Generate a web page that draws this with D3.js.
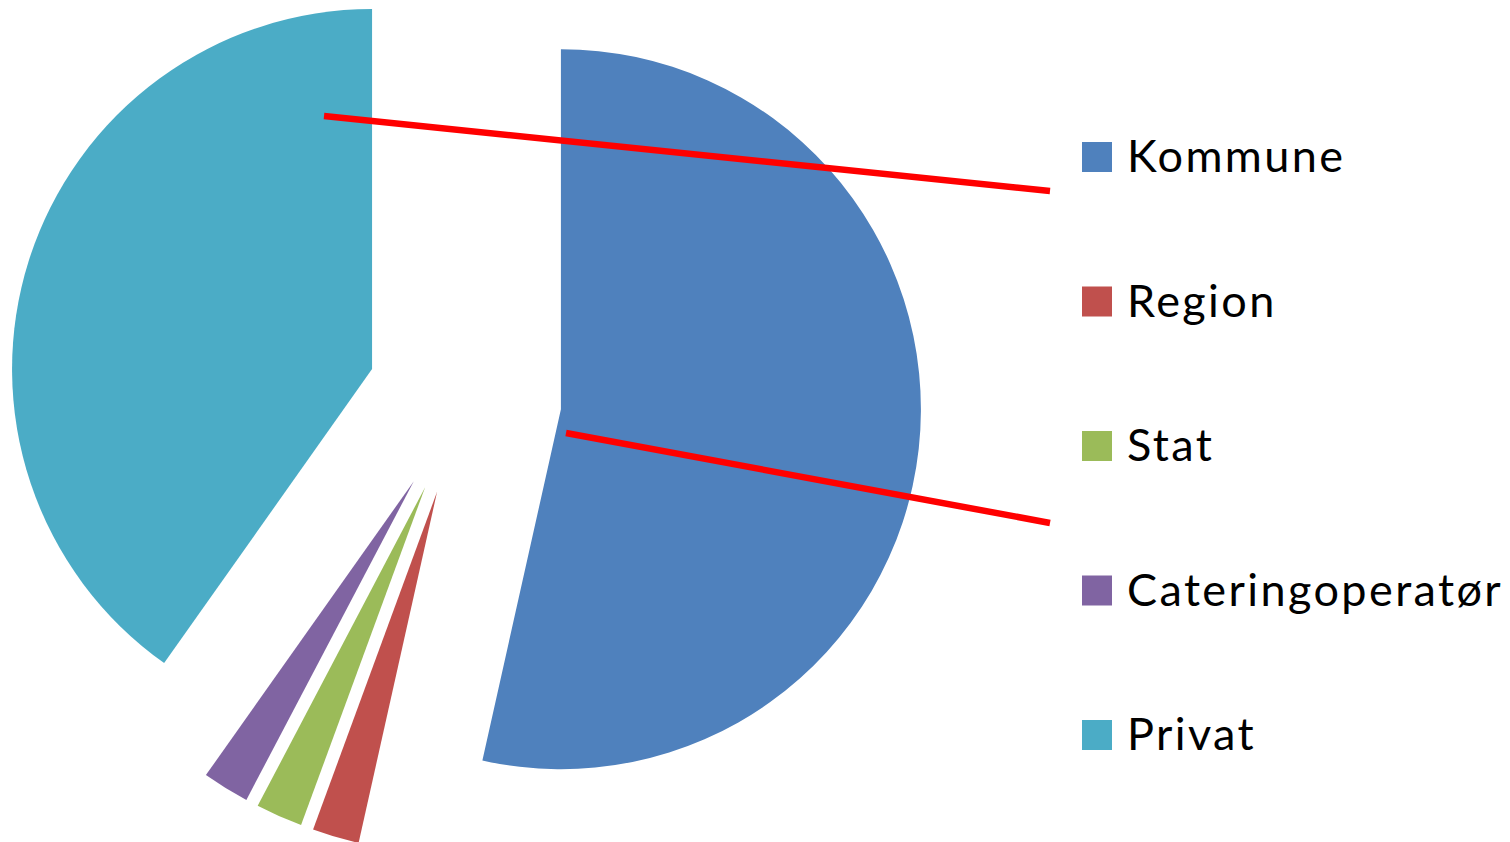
<!DOCTYPE html>
<html>
<head>
<meta charset="utf-8">
<script src="https://cdn.jsdelivr.net/npm/d3@7"></script>
<style>
  html, body { margin: 0; padding: 0; background: #ffffff; }
  svg { display: block; }
</style>
</head>
<body>
<svg id="chart" width="1510" height="842"></svg>
<script>
// Share of meals by provider (percent)
const categories = ["Kommune", "Region", "Stat", "Cateringoperatør", "Privat"];
const values = [53.5, 2.1, 2.1, 2.1, 40.2];
const colors = ["#4F81BD", "#C0504D", "#9BBB59", "#8064A2", "#4BACC6"];

// Red highlight strokes laid over the chart
const highlightLines = [
  { x1: 324, y1: 116, x2: 1050, y2: 191 },
  { x1: 566, y1: 433, x2: 1050, y2: 523 }
];

const width = 1510, height = 842;
const pieCenter = { x: 464.5, y: 398.5 };
const radius = 360;
const explode = 97;

const svg = d3.select("#chart");

const pie = d3.pie().sort(null).value(d => d.value).startAngle(0).endAngle(2 * Math.PI);
const arc = d3.arc().innerRadius(0).outerRadius(radius);

const data = categories.map((c, i) => ({ name: c, value: values[i], color: colors[i] }));
const arcs = pie(data);

const pieG = svg.append("g").attr("transform", `translate(${pieCenter.x},${pieCenter.y})`);

// Every slice is pulled out from the centre along its bisector
pieG.selectAll("path.slice")
  .data(arcs)
  .join("path")
  .attr("class", "slice")
  .attr("fill", d => d.data.color)
  .attr("d", arc)
  .attr("transform", d => {
    const mid = (d.startAngle + d.endAngle) / 2;
    const dx = Math.sin(mid) * explode;
    const dy = -Math.cos(mid) * explode;
    return `translate(${dx},${dy})`;
  });

// Legend
const legendX = 1082;
const legendY = d3.scaleBand().domain(categories).range([142, 142 + 144.5 * categories.length]);
const legend = svg.append("g");
const items = legend.selectAll("g.item")
  .data(data)
  .join("g")
  .attr("class", "item")
  .attr("transform", d => `translate(${legendX},${legendY(d.name)})`);

items.append("rect")
  .attr("width", 30)
  .attr("height", 30)
  .attr("fill", d => d.color);

items.append("text")
  .attr("x", 45)
  .attr("y", 30)
  .attr("font-family", "Lato, 'Open Sans', sans-serif")
  .attr("font-size", 45)
  .attr("letter-spacing", 2.4)
  .attr("fill", "#000")
  .text(d => d.name);

// Highlight strokes
svg.append("g").selectAll("line")
  .data(highlightLines)
  .join("line")
  .attr("x1", d => d.x1).attr("y1", d => d.y1)
  .attr("x2", d => d.x2).attr("y2", d => d.y2)
  .attr("stroke", "#FF0000")
  .attr("stroke-width", 6.5);
</script>
</body>
</html>
